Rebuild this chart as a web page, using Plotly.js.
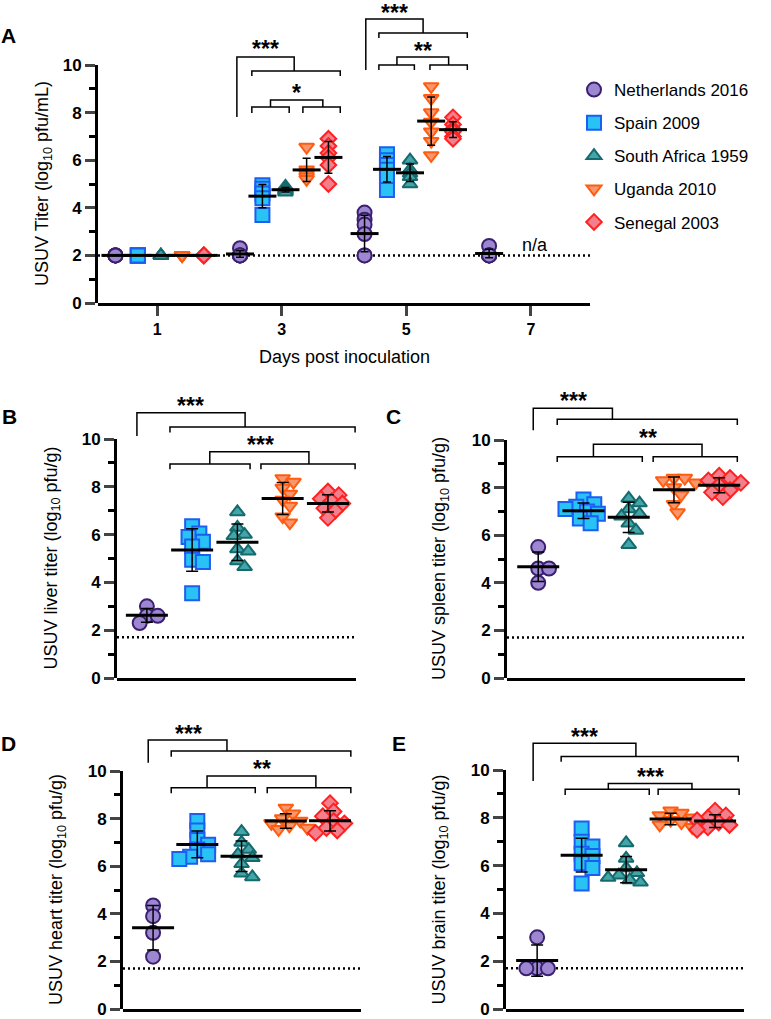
<!DOCTYPE html>
<html>
<head>
<meta charset="utf-8">
<script src="https://cdn.plot.ly/plotly-3.0.1.min.js"></script>
<style>body{margin:0;background:#fff}#chart{width:771px;height:1019px}</style>
</head>
<body>
<div id="chart"></div>
<script>
// Strains, in legend order
var strains = ['Netherlands 2016', 'Spain 2009', 'South Africa 1959', 'Uganda 2010', 'Senegal 2003'];

// A: serum titer (log10 pfu/mL) per day post inoculation
var days = [1, 3, 5, 7];
var serumNL = [[2, 2, 2, 2, 2], [2.3, 2, 2, 2, 2], [3.8, 3.5, 3.3, 2.9, 2, 2], [2.4, 2, 2, 2, 2]];
var serumES = [[2, 2, 2, 2, 2], [4.95, 4.8, 4.6, 4.4, 3.7], [6.25, 6.0, 5.8, 5.6, 5.3, 4.75]];
var serumZA = [[2, 2, 2, 2, 2], [4.9, 4.8, 4.75, 4.7, 4.65], [6.0, 5.6, 5.45, 5.3, 5.0]];
var serumUG = [[2, 2, 2, 2, 2], [6.55, 5.6, 5.5, 5.4, 5.3, 5.2], [9.1, 8.6, 8.0, 7.6, 7.2, 6.8, 6.2]];
var serumSN = [[2, 2, 2, 2, 2], [6.9, 6.6, 6.3, 6.1, 5.8, 5.0], [7.8, 7.5, 7.3, 7.2, 7.0, 6.9]];
var serumLOD = 2;

// B-E: organ titers (log10 pfu/g)
var liverNL = [3.0, 2.6, 2.6, 2.3];
var liverES = [6.35, 6.05, 5.9, 5.7, 5.5, 4.95, 4.85, 3.55];
var liverZA = [6.95, 6.3, 6.0, 5.95, 5.4, 5.3, 4.9, 4.65];
var liverUG = [8.35, 8.2, 7.95, 7.7, 7.45, 7.2, 6.75, 6.5];
var liverSN = [7.8, 7.65, 7.5, 7.4, 7.3, 7.1, 7.0, 6.7];

var spleenNL = [5.5, 4.6, 4.6, 4.0];
var spleenES = [7.5, 7.3, 7.2, 7.1, 7.0, 6.9, 6.7, 6.5];
var spleenZA = [7.55, 7.35, 7.1, 6.9, 6.8, 6.5, 6.2, 5.6];
var spleenUG = [8.4, 8.4, 8.3, 8.2, 8.0, 7.7, 7.3, 6.95];
var spleenSN = [8.5, 8.4, 8.3, 8.2, 8.1, 7.9, 7.8, 7.6];

var heartNL = [4.35, 3.9, 3.2, 2.2];
var heartES = [7.9, 7.5, 7.1, 6.9, 6.7, 6.5, 6.4, 6.3];
var heartZA = [7.45, 7.0, 6.7, 6.5, 6.35, 6.1, 5.7, 5.55];
var heartUG = [8.45, 8.2, 8.0, 7.9, 7.8, 7.7, 7.6, 7.55];
var heartSN = [8.65, 8.3, 8.1, 7.9, 7.8, 7.6, 7.5, 7.4];

var brainNL = [3.0, 1.7, 1.7, 1.7];
var brainES = [7.55, 7.0, 6.8, 6.5, 6.4, 6.1, 5.9, 5.25];
var brainZA = [6.95, 6.3, 5.9, 5.7, 5.6, 5.5, 5.4, 5.3];
var brainUG = [8.3, 8.2, 8.1, 8.0, 7.9, 7.8, 7.7, 7.6];
var brainSN = [8.3, 8.1, 8.0, 7.9, 7.8, 7.7, 7.6, 7.5];
var organLOD = 1.7;

var organTitles = ['USUV liver titer', 'USUV spleen titer', 'USUV heart titer', 'USUV brain titer'];

// ---- styles ----
var W = 771, H = 1019;
var FONT = 'Arial, "Liberation Sans", Helvetica, sans-serif';
var fills = ['#9d87d1', '#29c2f4', '#44a5a8', '#f8976e', '#f27f8b'];
var borders = ['#3b2070', '#1d5ef2', '#156a6e', '#ff5c10', '#ff2121'];
var symbols = ['circle', 'square', 'triangle-up', 'triangle-down', 'diamond'];
var msize = [14, 14, 13, 13, 12];

// panel boxes in pixels (axis lines), plus top of the bracket area
var panels = [
  {x0: 98, x1: 590, yZero: 303, yTen: 65, yTop: 0, xr: [0.05, 7.95]},
  {x0: 117, x1: 356, yZero: 678, yTen: 439, yTop: 385, xr: [-0.66, 4.62]},
  {x0: 507, x1: 745, yZero: 678, yTen: 440, yTop: 385, xr: [-0.69, 4.57]},
  {x0: 123, x1: 361, yZero: 1009, yTen: 771, yTop: 712, xr: [-0.68, 4.7]},
  {x0: 506, x1: 744, yZero: 1009, yTen: 770, yTop: 712, xr: [-0.7, 4.65]}
];

function mean(a) { return a.reduce(function (s, v) { return s + v; }, 0) / a.length; }
function sd(a) {
  var m = mean(a);
  return Math.sqrt(a.reduce(function (s, v) { return s + (v - m) * (v - m); }, 0) / (a.length - 1));
}

// simple beeswarm: horizontal offsets (data units) so markers don't sit on each other
function swarm(vals, pxX, pxY, d) {
  var order = vals.map(function (v, i) { return i; }).sort(function (a, b) { return vals[b] - vals[a]; });
  var placed = [], offs = [];
  order.forEach(function (i) {
    for (var k = 0; k < 60; k++) {
      var cand = (k % 2 === 1 ? 1 : -1) * Math.ceil(k / 2) * d * 0.4;
      var ok = placed.every(function (p) {
        var dx = cand - p[0], dy = (vals[i] - p[1]) * pxY;
        return dx * dx + dy * dy >= d * d;
      });
      if (ok) { offs[i] = cand / pxX; placed.push([cand, vals[i]]); break; }
    }
  });
  return offs;
}

function pointTrace(s, n, xs, ys, legend) {
  return {
    type: 'scatter', mode: 'markers', x: xs, y: ys,
    xaxis: 'x' + n, yaxis: 'y' + n, cliponaxis: false,
    name: strains[s], legendgroup: strains[s], showlegend: legend,
    marker: {symbol: symbols[s], size: msize[s], color: fills[s], line: {color: borders[s], width: 2}}
  };
}
function meanTrace(n, xs, ms, es, w, cap) {
  return {
    type: 'scatter', mode: 'markers', x: xs, y: ms,
    xaxis: 'x' + n, yaxis: 'y' + n, cliponaxis: false, showlegend: false,
    marker: {symbol: 'line-ew', size: w, color: 'black', line: {color: 'black', width: 3}},
    error_y: {type: 'data', array: es, visible: true, color: 'black', thickness: 1.5, width: cap}
  };
}

var pts = [], means = [];

// Panel A
var serum = [serumNL, serumES, serumZA, serumUG, serumSN];
var offA = [-0.67, -0.31, 0.06, 0.4, 0.75];
serum.forEach(function (byDay, s) {
  var xs = [], ys = [], mx = [], my = [], me = [];
  byDay.forEach(function (vals, d) {
    vals.forEach(function (v) { xs.push(days[d] + offA[s]); ys.push(v); });
    mx.push(days[d] + offA[s]); my.push(mean(vals)); me.push(sd(vals));
  });
  pts.push(pointTrace(s, 1, xs, ys, true));
  means.push(meanTrace(1, mx, my, me, 20, 4));
});

// Panels B-E
var organs = [
  [liverNL, liverES, liverZA, liverUG, liverSN],
  [spleenNL, spleenES, spleenZA, spleenUG, spleenSN],
  [heartNL, heartES, heartZA, heartUG, heartSN],
  [brainNL, brainES, brainZA, brainUG, brainSN]
];
organs.forEach(function (groups, p) {
  var n = p + 2, P = panels[p + 1];
  var pxX = (P.x1 - P.x0) / (P.xr[1] - P.xr[0]);
  var pxY = (P.yZero - P.yTen) / 10;
  groups.forEach(function (vals, s) {
    var offs = swarm(vals, pxX, pxY, 9);
    pts.push(pointTrace(s, n, vals.map(function (v, i) { return s + offs[i]; }), vals, false));
    means.push(meanTrace(n, [s], [mean(vals)], [sd(vals)], 30, 6));
  });
});

// ---- layout ----
var layout = {
  width: W, height: H, margin: {l: 0, r: 0, t: 0, b: 0},
  paper_bgcolor: 'white', plot_bgcolor: 'rgba(0,0,0,0)',
  font: {family: FONT, color: 'black'},
  showlegend: true,
  legend: {x: 574 / W, y: 1 - 72 / H, xanchor: 'left', yanchor: 'top',
    font: {family: FONT, size: 17, color: 'black'}, tracegroupgap: 8, bgcolor: 'rgba(0,0,0,0)'},
  shapes: [], annotations: []
};

panels.forEach(function (P, i) {
  var n = i + 1;
  var top = 10 * (P.yZero - P.yTop) / (P.yZero - P.yTen);
  var xa = {
    domain: [P.x0 / W, P.x1 / W], range: P.xr, anchor: 'y' + n,
    showline: true, linewidth: 3, linecolor: 'black', showgrid: false, zeroline: false
  };
  if (i === 0) {
    xa.tickvals = days; xa.ticks = 'outside'; xa.ticklen = 10; xa.tickwidth = 3;
    xa.tickfont = {family: FONT, size: 16, weight: 'bold', color: 'black'};
  } else {
    xa.showticklabels = false; xa.ticks = '';
  }
  layout['xaxis' + n] = xa;
  // data axis (extends above 10 so brackets fit)
  layout['yaxis' + n] = {
    domain: [1 - P.yZero / H, 1 - P.yTop / H], range: [0, top], anchor: 'x' + n,
    visible: false, showgrid: false, zeroline: false
  };
  // visible axis 0-10
  layout['yaxis' + (n + 5)] = {
    domain: [1 - P.yZero / H, 1 - P.yTen / H], range: [0, 10], anchor: 'x' + n,
    showline: true, linewidth: 3, linecolor: 'black', showgrid: false, zeroline: false,
    tickvals: [0, 2, 4, 6, 8, 10], ticks: 'outside', ticklen: 10, tickwidth: 3,
    ticklabeloverflow: 'allow',
    tickfont: {family: FONT, size: 17, weight: 'bold', color: 'black'},
    minor: {tickvals: [1, 3, 5, 7, 9], ticks: 'outside', ticklen: 6, tickwidth: 3, tickcolor: 'black'}
  };
  layout.shapes.push({
    type: 'line', xref: 'x' + n, yref: 'y' + n, layer: 'below',
    x0: P.xr[0], x1: P.xr[1], y0: i === 0 ? serumLOD : organLOD, y1: i === 0 ? serumLOD : organLOD,
    line: {color: 'black', width: 2.5, dash: '2px,3px'}
  });
});

// significance brackets (data units of each panel)
var brackets = [
  [1, 'M2.28,7.82 V10.34 H3.2 V9.75'], [1, 'M2.52,9.54 V9.75 H3.94 V9.54'],
  [1, 'M2.82,8.24 V8.53 H3.66 V8.24'], [1, 'M2.52,7.98 V8.24 H3.12 V7.98'], [1, 'M3.34,7.98 V8.24 H3.94 V7.98'],
  [1, 'M4.35,9.79 V11.93 H5.27 V11.34'], [1, 'M4.56,11.13 V11.34 H5.98 V11.13'],
  [1, 'M4.85,10.0 V10.34 H5.68 V10.0'], [1, 'M4.56,9.79 V10.0 H5.13 V9.79'], [1, 'M5.38,9.79 V10.0 H5.98 V9.79'],
  [2, 'M-0.22,10.13 V11.1 H2.17 V10.5'], [2, 'M0.51,10.27 V10.5 H4.6 V10.27'],
  [2, 'M1.39,8.95 V9.47 H3.58 V8.95'], [2, 'M0.51,8.73 V8.95 H2.28 V8.73'], [2, 'M2.52,8.73 V8.95 H4.6 V8.73'],
  [3, 'M-0.11,10.41 V11.33 H1.64 V10.87'], [3, 'M0.42,10.63 V10.87 H4.4 V10.63'],
  [3, 'M1.22,9.3 V9.82 H3.62 V9.3'], [3, 'M0.42,9.08 V9.3 H2.3 V9.08'], [3, 'M2.54,9.08 V9.3 H4.4 V9.08'],
  [4, 'M-0.11,10.35 V11.3 H1.67 V10.84'], [4, 'M0.41,10.6 V10.84 H4.47 V10.6'],
  [4, 'M1.22,9.3 V9.79 H3.68 V9.3'], [4, 'M0.41,9.06 V9.3 H2.31 V9.06'], [4, 'M2.58,9.06 V9.3 H4.47 V9.06'],
  [5, 'M-0.09,9.54 V11.12 H2.22 V10.56'], [5, 'M0.54,10.35 V10.56 H4.52 V10.35'],
  [5, 'M1.6,9.19 V9.44 H3.48 V9.19'], [5, 'M0.63,8.95 V9.19 H2.52 V8.95'], [5, 'M2.72,8.95 V9.19 H4.54 V8.95']
];
brackets.forEach(function (b) {
  // expand H/V shorthand into absolute coordinates for plotly paths
  var cmds = b[1].match(/[MVH][^MVH]*/g), x = 0, y = 0, d = '';
  cmds.forEach(function (c) {
    var t = c[0], v = c.slice(1).split(',').map(Number);
    if (t === 'M') { x = v[0]; y = v[1]; d += 'M' + x + ',' + y; }
    if (t === 'V') { y = v[0]; d += ' L' + x + ',' + y; }
    if (t === 'H') { x = v[0]; d += ' L' + x + ',' + y; }
  });
  layout.shapes.push({type: 'path', xref: 'x' + b[0], yref: 'y' + b[0], path: d,
    line: {color: 'black', width: 1.5}});
});

var stars = [
  [1, 2.74, 10.92, '***'], [1, 3.24, 9.08, '*'], [1, 4.81, 12.44, '***'], [1, 5.27, 10.84, '**'],
  [2, 0.97, 11.63, '***'], [2, 2.5, 10.0, '***'],
  [3, 0.77, 11.88, '***'], [3, 2.43, 10.34, '**'],
  [4, 0.79, 11.82, '***'], [4, 2.46, 10.32, '**'],
  [5, 1.06, 11.63, '***'], [5, 2.54, 9.96, '***']
];
stars.forEach(function (s) {
  layout.annotations.push({xref: 'x' + s[0], yref: 'y' + s[0], x: s[1], y: s[2], text: s[3],
    showarrow: false, xanchor: 'center', yanchor: 'middle', yshift: -6,
    font: {family: FONT, size: 23, weight: 'bold', color: 'black'}});
});

// panel letters
[['A', 8, 35], ['B', 9, 417], ['C', 393, 417], ['D', 8, 743], ['E', 399, 743]].forEach(function (l) {
  layout.annotations.push({xref: 'paper', yref: 'paper', x: l[1] / W, y: 1 - l[2] / H, text: l[0],
    showarrow: false, xanchor: 'center', yanchor: 'middle',
    font: {family: FONT, size: 21, weight: 'bold', color: 'black'}});
});

// y axis titles, centred on the 0-10 part of each axis
var yTitles = ['USUV Titer (log<sub>10</sub> pfu/mL)'].concat(organTitles.map(function (t) {
  return t + ' (log<sub>10</sub> pfu/g)';
}));
var yTitleX = [43, 52, 440, 57, 440];
yTitles.forEach(function (t, i) {
  layout.annotations.push({xref: 'paper', yref: 'y' + (i + 6), x: yTitleX[i] / W, y: 5, text: t,
    textangle: -90, showarrow: false, xanchor: 'center', yanchor: 'middle',
    font: {family: FONT, size: 18, color: 'black'}});
});

layout.annotations.push({xref: 'paper', yref: 'paper', x: 344 / W, y: 1 - 357 / H,
  text: 'Days post inoculation', showarrow: false, xanchor: 'center', yanchor: 'middle',
  font: {family: FONT, size: 18, color: 'black'}});
layout.annotations.push({xref: 'x', yref: 'y', x: 7.07, y: 2.44, text: 'n/a',
  showarrow: false, xanchor: 'center', yanchor: 'middle',
  font: {family: FONT, size: 18, color: 'black'}});

Plotly.newPlot('chart', pts.concat(means), layout, {staticPlot: true, displayModeBar: false});
</script>
</body>
</html>
